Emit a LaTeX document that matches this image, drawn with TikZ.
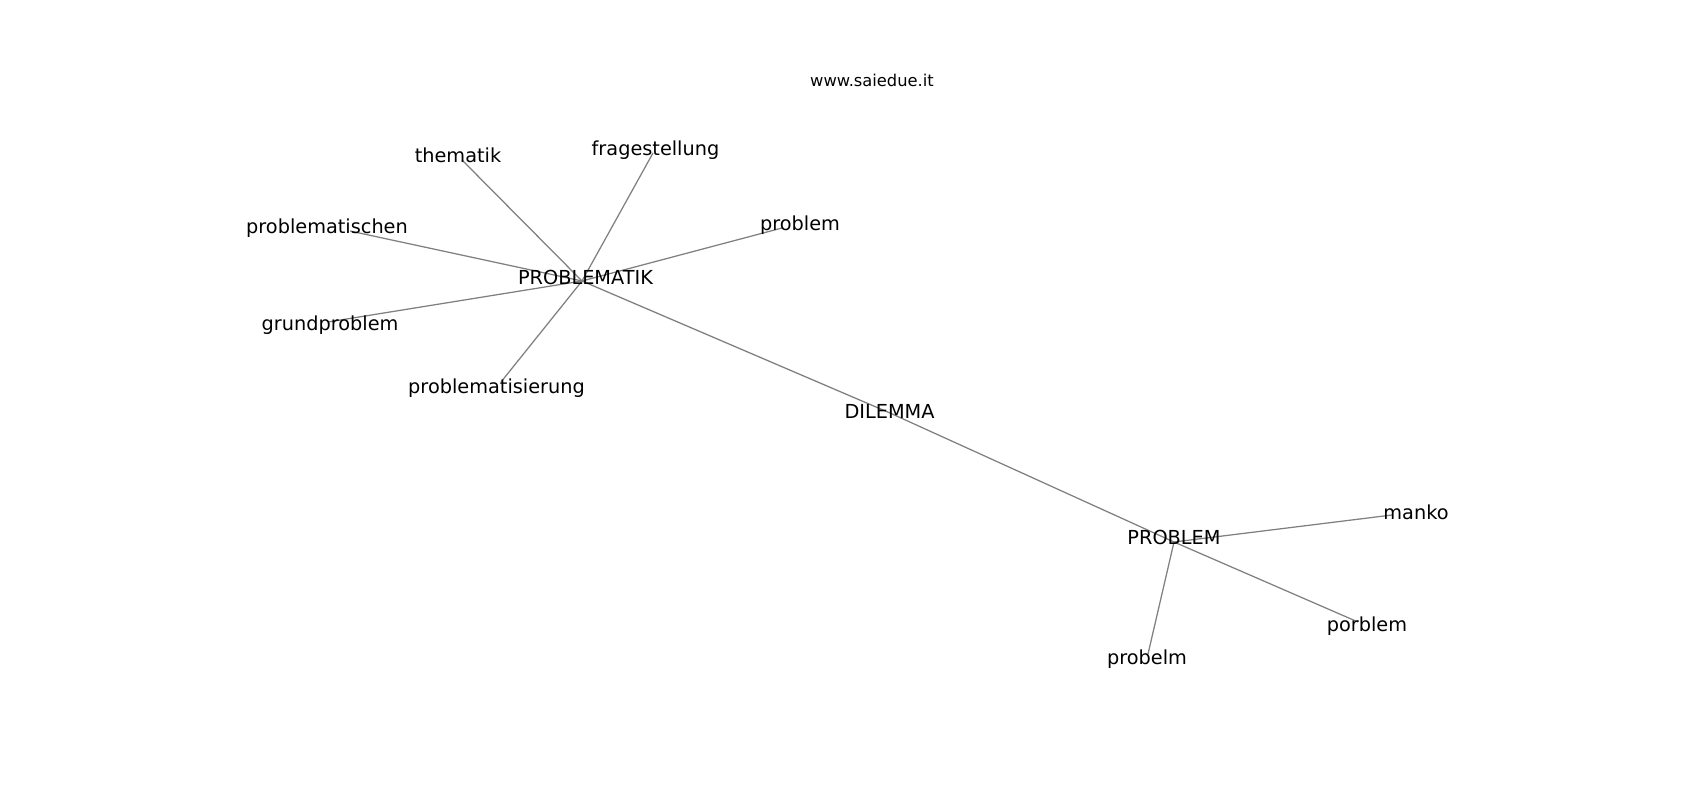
\documentclass[tikz,border=0pt]{standalone}
\usepackage{fontspec}
\setmainfont{DejaVu Sans}
\begin{document}
\begin{tikzpicture}[x=1pt,y=-1pt,
  lbl/.style={anchor=base,inner sep=0pt,outer sep=0pt,font=\fontsize{19.3}{23}\selectfont,text=black},
  wm/.style={anchor=base,inner sep=0pt,outer sep=0pt,font=\fontsize{16.3}{20}\selectfont,text=black},
  edge/.style={draw=gray,line width=1.25pt}]
\useasboundingbox[fill=white] (0,0) rectangle (1700,800);
% graph vertices
\coordinate (vPK) at (582,281);
\coordinate (vTh) at (462,160);
\coordinate (vFr) at (653,153);
\coordinate (vPr) at (782,228);
\coordinate (vPs) at (350,231);
\coordinate (vGr) at (328,322);
\coordinate (vPz) at (501,382);
\coordinate (vDi) at (890,413);
\coordinate (vPB) at (1174,542);
\coordinate (vMa) at (1392,515);
\coordinate (vPo) at (1358,622);
\coordinate (vPe) at (1148,654);
% edges
\draw[edge] (vPK) -- (vTh);
\draw[edge] (vPK) -- (vFr);
\draw[edge] (vPK) -- (vPr);
\draw[edge] (vPK) -- (vPs);
\draw[edge] (vPK) -- (vGr);
\draw[edge] (vPK) -- (vPz);
\draw[edge] (vPK) -- (vDi);
\draw[edge] (vDi) -- (vPB);
\draw[edge] (vPB) -- (vMa);
\draw[edge] (vPB) -- (vPo);
\draw[edge] (vPB) -- (vPe);
% labels
\node[wm] (www) at (872,87) {www.saiedue.it};
\node[lbl] (lTh) at (458,162.5) {thematik};
\node[lbl] (lFr) at (655.5,155.5) {fragestellung};
\node[lbl] (lPr) at (800,230) {problem};
\node[lbl] (lPs) at (327,233) {problematischen};
\node[lbl] (lPK) at (585.5,284.5) {PROBLEMATIK};
\node[lbl] (lGr) at (330,330) {grundproblem};
\node[lbl] (lPz) at (496.5,393) {problematisierung};
\node[lbl] (lDi) at (889.5,418) {DILEMMA};
\node[lbl] (lPB) at (1174,544) {PROBLEM};
\node[lbl] (lMa) at (1416,519) {manko};
\node[lbl] (lPo) at (1367,631) {porblem};
\node[lbl] (lPe) at (1147,664.5) {probelm};
\end{tikzpicture}
\end{document}
